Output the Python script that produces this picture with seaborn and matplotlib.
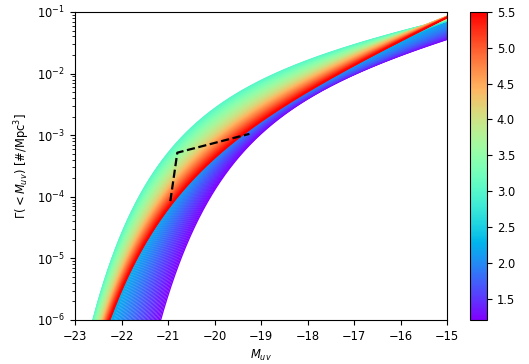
import numpy as np
import pandas as pd
import matplotlib

matplotlib.use("Agg")
import matplotlib.pyplot as plt
import seaborn as sns

# magnitude where each curve crosses 1e-6 ... 1e-2,
# and log10 Gamma at M_uv = -15, for a few redshifts
levels = [-6, -5, -4, -3, -2]
z_nodes = [1.2, 2.2, 3.0, 4.2, 5.5]
m_cross_z12 = [-21.14, -20.74, -20.17, -18.88, -16.96]
m_cross_z22 = [-22.15, -21.70, -20.87, -19.40, -17.45]
m_cross_z30 = [-22.61, -22.18, -21.73, -20.63, -18.48]
m_cross_z42 = [-22.39, -21.96, -21.24, -19.88, -17.73]
m_cross_z55 = [-22.21, -21.75, -20.82, -19.28, -17.30]
log_gamma_faint = [-1.43, -1.13, -1.10, -1.04, -1.07]

# dashed reference points
dash_M = [-20.95, -20.8, -19.25]
dash_gamma = [8.5e-5, 5.2e-4, 1.05e-3]

z_min, z_max = 1.2, 5.5
M_faint = -15.0


def schechter_cum(d, alpha):
    # cumulative Schechter LF (per unit phi*) as a function of M - M*
    x = 10 ** (-0.4 * d)
    phi = 0.4 * np.log(10) * x ** (alpha + 1) * np.exp(-x)
    return np.concatenate([[0.0], np.cumsum(0.5 * (phi[1:] + phi[:-1]) * np.diff(d))])


def fit_schechter(m_cross, lg_faint):
    M = np.array(m_cross + [M_faint])
    lg = np.array(levels + [lg_faint], dtype=float)
    d = np.linspace(-12, 12, 4801)
    mstars = np.arange(-23, -18, 0.01)
    best = None
    for a in np.arange(-2.4, -1.0, 0.01):
        lF = np.log10(np.maximum(schechter_cum(d, a), 1e-300))
        v = np.interp((M[None, :] - mstars[:, None]).ravel(), d, lF).reshape(len(mstars), len(M))
        lp = (lg - v).mean(axis=1)
        r = ((lg - v - lp[:, None]) ** 2).sum(axis=1)
        i = np.argmin(r)
        if best is None or r[i] < best[0]:
            best = (r[i], mstars[i], lp[i], a)
    return best[1:]


params = [fit_schechter(mc, lf) for mc, lf in
          zip([m_cross_z12, m_cross_z22, m_cross_z30, m_cross_z42, m_cross_z55],
              log_gamma_faint)]
mstar_nodes = [p[0] for p in params]
logphi_nodes = [p[1] for p in params]
alpha_nodes = [p[2] for p in params]

M_grid = np.linspace(-27, -15, 900)
z_draw = np.linspace(z_min, z_max, 160)
rows = []
for z in z_draw:
    ms = np.interp(z, z_nodes, mstar_nodes)
    lp = np.interp(z, z_nodes, logphi_nodes)
    al = np.interp(z, z_nodes, alpha_nodes)
    g = 10 ** lp * schechter_cum(M_grid - ms, al)
    rows.append(pd.DataFrame({"M": M_grid, "gamma": g, "z": z}))
df = pd.concat(rows, ignore_index=True)
df = df[df["gamma"] > 1e-8]

fig = plt.figure(figsize=(5.29, 3.64), dpi=100)
ax = fig.add_axes([0.1418, 0.1209, 0.7032, 0.8462])
cax = fig.add_axes([0.8885, 0.1209, 0.0321, 0.8462])

sns.lineplot(data=df, x="M", y="gamma", hue="z", palette="rainbow",
             hue_norm=(z_min, z_max), legend=False, estimator=None,
             sort=False, lw=1.0, ax=ax)
ax.plot(dash_M, dash_gamma, "k--", lw=1.6)

ax.set_yscale("log")
ax.set_xlim(-23, -15)
ax.set_ylim(1e-6, 1e-1)
ax.set_xlabel("$M_{uv}$", fontsize=8.3)
ax.set_ylabel("$\\Gamma(<M_{uv})$ [#/Mpc$^3$]", fontsize=8.3)
ax.tick_params(labelsize=8.3)

sm = plt.cm.ScalarMappable(cmap="rainbow", norm=plt.Normalize(z_min, z_max))
cb = fig.colorbar(sm, cax=cax)
cb.set_ticks([1.5, 2.0, 2.5, 3.0, 3.5, 4.0, 4.5, 5.0, 5.5])
cb.ax.tick_params(labelsize=8.3)

fig.savefig("out.png", dpi=100)
